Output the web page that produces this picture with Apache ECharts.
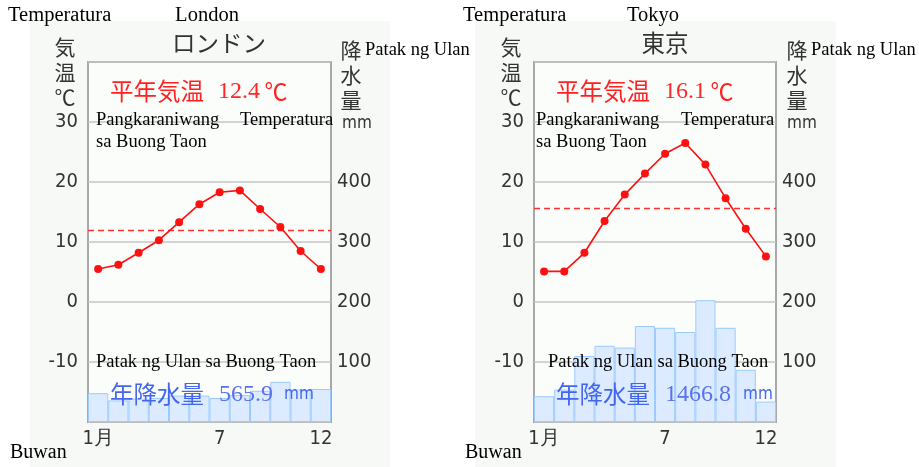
<!DOCTYPE html>
<html>
<head>
<meta charset="utf-8">
<script src="https://cdn.jsdelivr.net/npm/echarts@6/dist/echarts.min.js"></script>
<style>
  html, body { margin: 0; padding: 0; background: #fff; }
  #chart { width: 919px; height: 467px; }
</style>
</head>
<body>
<div id="chart"></div>
<script>
// 月
const months = ['1', '2', '3', '4', '5', '6', '7', '8', '9', '10', '11', '12']
// 気温 (℃)
const londonTemp = [5.5, 6.2, 8.2, 10.3, 13.3, 16.3, 18.3, 18.6, 15.5, 12.5, 8.5, 5.5]
const tokyoTemp = [5.1, 5.1, 8.2, 13.5, 17.9, 21.4, 24.7, 26.5, 22.9, 17.3, 12.2, 7.6]
// 降水量 (mm)
const londonRain = [48, 36, 39, 40, 44, 44, 40, 45, 52, 67, 54, 55]
const tokyoRain = [43, 54, 110, 127, 124, 160, 157, 150, 203, 157, 87, 34]
// 平年気温ライン
const meanLine = [12.0, 15.7]
const meanText = ['12.4', '16.1']
const rainText = ['565.9', '1466.8']
const cities = ['London', 'Tokyo']
const citiesJa = ['ロンドン', '東京']

const chart = echarts.init(document.getElementById('chart'))

const serif = 'Liberation Serif, Times New Roman, serif'
const cjk = 'Noto Sans CJK JP, sans-serif'
const num = 'DejaVu Sans Condensed, DejaVu Sans, sans-serif'

const grids = [
  { left: 88, top: 62, width: 243, height: 360 },
  { left: 534, top: 62, width: 242, height: 360 }
]

function panelTexts(ox, gx, i) {
  // ox: パネル左端, gx: グリッド左端
  const t = (text, x, y, style) => ({
    type: 'text', z: 100,
    style: Object.assign({ text: text, x: x, y: y, textVerticalAlign: 'middle', fill: '#000', font: '18.5px ' + serif }, style)
  })
  const numW = i === 0 ? 50 : 63
  // 訳語の位置 (London / Tokyo で少しずれる)
  const px = i === 0 ? 8 : 2
  const tx = i === 0 ? 152 : 147
  const rx = i === 0 ? 8 : 14
  return [
    t('Temperatura', ox - 22, 16, { font: '20.5px ' + serif }),
    t(cities[i], gx + 119, 16, { textAlign: 'center', font: '20.5px ' + serif }),
    t(citiesJa[i], gx + 131, 43, { textAlign: 'center', font: '23.5px ' + cjk, fill: '#333' }),
    t('気\n温\n℃', gx - 23, 72, { textAlign: 'center', font: '21px ' + cjk, fill: '#333', lineHeight: 25 }),
    t('降\n水\n量', gx + 263, 75, { textAlign: 'center', font: '21px ' + cjk, fill: '#333', lineHeight: 25 }),
    t('Patak ng Ulan', gx + 277, 50),
    // 平年気温
    t('平年気温', gx + 22, 91, { font: '23.5px ' + cjk, fill: '#ff2020' }),
    t(meanText[i], gx + 130, 92, { font: '24px ' + serif, fill: '#ff2828' }),
    t('℃', gx + 188, 91, { textAlign: 'center', font: '23px ' + cjk, fill: '#ff2020' }),
    t('Pangkaraniwang', gx + px, 120),
    t('Temperatura', gx + tx, 120),
    t('sa Buong Taon', gx + px, 142),
    t('Patak ng Ulan sa Buong Taon', gx + rx, 362),
    // 年降水量
    t('年降水量', gx + 22, 394, { font: '23.5px ' + cjk, fill: '#4466ee' }),
    t(rainText[i], gx + 131, 395, { font: '24px ' + serif, fill: '#5a72ec' }),
    t('mm', gx + 131 + numW + 15, 395, { font: '17px ' + num, fill: '#4466ee' }),
    t('Buwan', ox - 20, 453, { font: '20px ' + serif })
  ]
}

const xAxes = grids.map((g, i) => ({
  type: 'category',
  gridIndex: i,
  data: months,
  axisLine: { show: false },
  axisTick: { show: false },
  axisLabel: {
    interval: 0,
    margin: 7,
    color: '#333',
    fontFamily: num,
    fontSize: 20,
    formatter: (v, idx) => idx === 0 ? '1月' : (idx === 6 || idx === 11 ? v : '')
  }
}))

const yAxes = []
grids.forEach((g, i) => {
  yAxes.push({
    type: 'value', gridIndex: i, position: 'left',
    min: -20, max: 40, interval: 10,
    axisLine: { show: false }, axisTick: { show: false },
    splitLine: { lineStyle: { color: '#c4c4c4', width: 1.5 } },
    axisLabel: {
      margin: 10, color: '#333', fontFamily: num, fontSize: 20,
      formatter: v => (v > -20 && v < 40) ? String(v) : ''
    }
  })
  yAxes.push({
    type: 'value', gridIndex: i, position: 'right',
    min: 0, max: 600, interval: 100,
    axisLine: { show: false }, axisTick: { show: false },
    splitLine: { show: false },
    axisLabel: {
      margin: 6, color: '#333', fontFamily: num, fontSize: 20,
      formatter: v => v === 500 ? '{u|mm}' : ((v > 0 && v < 500) ? String(v) : ''),
      rich: { u: { fontFamily: num, fontSize: 17, color: '#333', padding: [4, 0, 0, 5] } }
    }
  })
})

const temps = [londonTemp, tokyoTemp]
const rains = [londonRain, tokyoRain]
const series = []
grids.forEach((g, i) => {
  series.push({
    type: 'bar',
    xAxisIndex: i, yAxisIndex: i * 2 + 1,
    data: rains[i],
    barCategoryGap: '0%',
    itemStyle: { color: '#dcebff', borderColor: '#9ccbff', borderWidth: 1 },
    silent: true, z: 1
  })
  series.push({
    type: 'line',
    xAxisIndex: i, yAxisIndex: i * 2,
    data: temps[i],
    symbol: 'circle', symbolSize: 8,
    itemStyle: { color: '#ff1010' },
    lineStyle: { color: '#ff1010', width: 1.6 },
    z: 5,
    markLine: {
      silent: true, symbol: 'none',
      label: { show: false },
      lineStyle: { color: '#ff3030', type: [6, 4], width: 1.3 },
      data: [{ yAxis: meanLine[i] }]
    }
  })
})

const options = {
  animation: false,
  backgroundColor: '#fff',
  grid: grids.map(g => Object.assign({
    show: true, borderColor: '#a8a8a8', borderWidth: 2, backgroundColor: '#fbfdfb'
  }, g)),
  xAxis: xAxes,
  yAxis: yAxes,
  series: series,
  graphic: [
    { type: 'rect', z: -100, shape: { x: 30, y: 21, width: 360, height: 446 }, style: { fill: '#f7f9f7' } },
    { type: 'rect', z: -100, shape: { x: 475, y: 21, width: 361, height: 446 }, style: { fill: '#f7f9f7' } }
  ].concat(panelTexts(30, 88, 0), panelTexts(485, 534, 1))
}
chart.setOption(options)
</script>
</body>
</html>
